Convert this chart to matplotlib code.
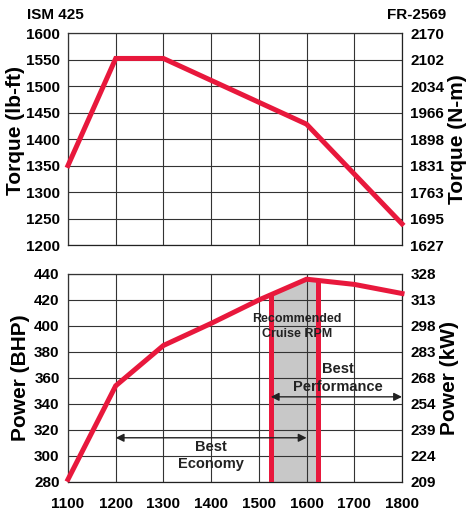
import matplotlib

matplotlib.use("Agg")

import matplotlib.pyplot as plt
import numpy as np

plt.rcParams["font.family"] = ["Liberation Sans", "DejaVu Sans"]
plt.rcParams["font.weight"] = "bold"

# engine speed (rpm)
rpm = [1100, 1200, 1300, 1400, 1500, 1600, 1700, 1800]

# torque curve
torque_rpm = [1100, 1200, 1300, 1600, 1800]
torque_lbft = [1350, 1552, 1552, 1428, 1240]

# power curve
power_rpm = [1100, 1200, 1300, 1400, 1500, 1600, 1700, 1800]
power_bhp = [282, 354, 385, 402, 420, 436, 432, 425]

# axis ticks
torque_ticks = [1200, 1250, 1300, 1350, 1400, 1450, 1500, 1550, 1600]
torque_nm_labels = ["1627", "1695", "1763", "1831", "1898", "1966", "2034", "2102", "2170"]
power_ticks = [280, 300, 320, 340, 360, 380, 400, 420, 440]
power_kw_labels = ["209", "224", "239", "254", "268", "283", "298", "313", "328"]

# recommended cruise band and ranges
cruise_band = [1525, 1625]
economy_range = [1200, 1600]
economy_y = 314
performance_range = [1525, 1800]
performance_y = 345.5

RED = "#E8183C"
GRID = "#333333"
TEXT = "#222222"


def style_axes(ax, ticks, right_labels, left_label, right_label):
    ax.set_xlim(rpm[0], rpm[-1])
    ax.set_ylim(ticks[0], ticks[-1])
    ax.set_xticks(rpm)
    ax.set_yticks(ticks)
    ax.grid(True, color=GRID, linewidth=0.8, zorder=2)
    ax.set_axisbelow(False)
    ax.tick_params(axis="y", length=0, labelsize=11, pad=6)
    ax.tick_params(axis="x", length=0, labelsize=11, pad=11)
    for spine in ax.spines.values():
        spine.set_color(TEXT)
        spine.set_linewidth(0.9)
    ax.set_ylabel(left_label, fontsize=15, fontweight="bold", labelpad=3)

    twin = ax.twinx()
    twin.set_ylim(ticks[0], ticks[-1])
    twin.set_yticks(ticks)
    twin.set_yticklabels(right_labels)
    twin.tick_params(length=0, labelsize=11, pad=6)
    twin.set_ylabel(right_label, fontsize=15, fontweight="bold", labelpad=3)
    for spine in twin.spines.values():
        spine.set_visible(False)
    return twin


fig = plt.figure(figsize=(4.67, 5.11), dpi=100)
ax_t = fig.add_axes([0.1456, 0.5205, 0.7152, 0.4149])
ax_p = fig.add_axes([0.1456, 0.0568, 0.7152, 0.4070])

# torque panel
style_axes(ax_t, torque_ticks, torque_nm_labels, "Torque (lb-ft)", "Torque (N-m)")
ax_t.yaxis.set_label_coords(-0.128, 0.54)
ax_t.set_xticklabels([])
ax_t.plot(torque_rpm, torque_lbft, color=RED, linewidth=3.6, zorder=4,
          solid_joinstyle="miter", clip_on=False)

fig.text(0.058, 0.970, "ISM 425", fontsize=11, fontweight="bold", ha="left", va="center")
fig.text(0.955, 0.970, "FR-2569", fontsize=11, fontweight="bold", ha="right", va="center")

# power panel
style_axes(ax_p, power_ticks, power_kw_labels, "Power (BHP)", "Power (kW)")
ax_p.set_xticklabels([str(r) for r in rpm])

band_x = np.linspace(cruise_band[0], cruise_band[1], 50)
band_top = np.interp(band_x, power_rpm, power_bhp)
ax_p.fill_between(band_x, power_ticks[0], band_top, color="#C8C8C8", zorder=1)
for x in cruise_band:
    ax_p.plot([x, x], [power_ticks[0], np.interp(x, power_rpm, power_bhp)],
              color=RED, linewidth=3.6, zorder=4, solid_capstyle="butt")

ax_p.plot(power_rpm, power_bhp, color=RED, linewidth=3.6, zorder=5,
          solid_joinstyle="miter", clip_on=False)

arrow_style = dict(arrowstyle="<|-|>", color=TEXT, linewidth=1.0,
                   mutation_scale=12, shrinkA=0, shrinkB=0)
ax_p.annotate("", xy=(economy_range[1], economy_y), xytext=(economy_range[0], economy_y),
              arrowprops=arrow_style, zorder=6)
ax_p.annotate("", xy=(performance_range[1], performance_y),
              xytext=(performance_range[0], performance_y),
              arrowprops=arrow_style, zorder=6)

ax_p.text(1400, 300.4, "Best\nEconomy", fontsize=10.5, fontweight="bold",
          ha="center", va="center", color=TEXT, linespacing=1.35, zorder=6)
ax_p.text(1665, 360, "Best\nPerformance", fontsize=10.5, fontweight="bold",
          ha="center", va="center", color=TEXT, linespacing=1.4, zorder=6)
ax_p.text(1580, 399.6, "Recommended\nCruise RPM", fontsize=9, fontweight="bold",
          ha="center", va="center", color=TEXT, linespacing=1.4, zorder=6)

fig.savefig("out.png", dpi=100)
